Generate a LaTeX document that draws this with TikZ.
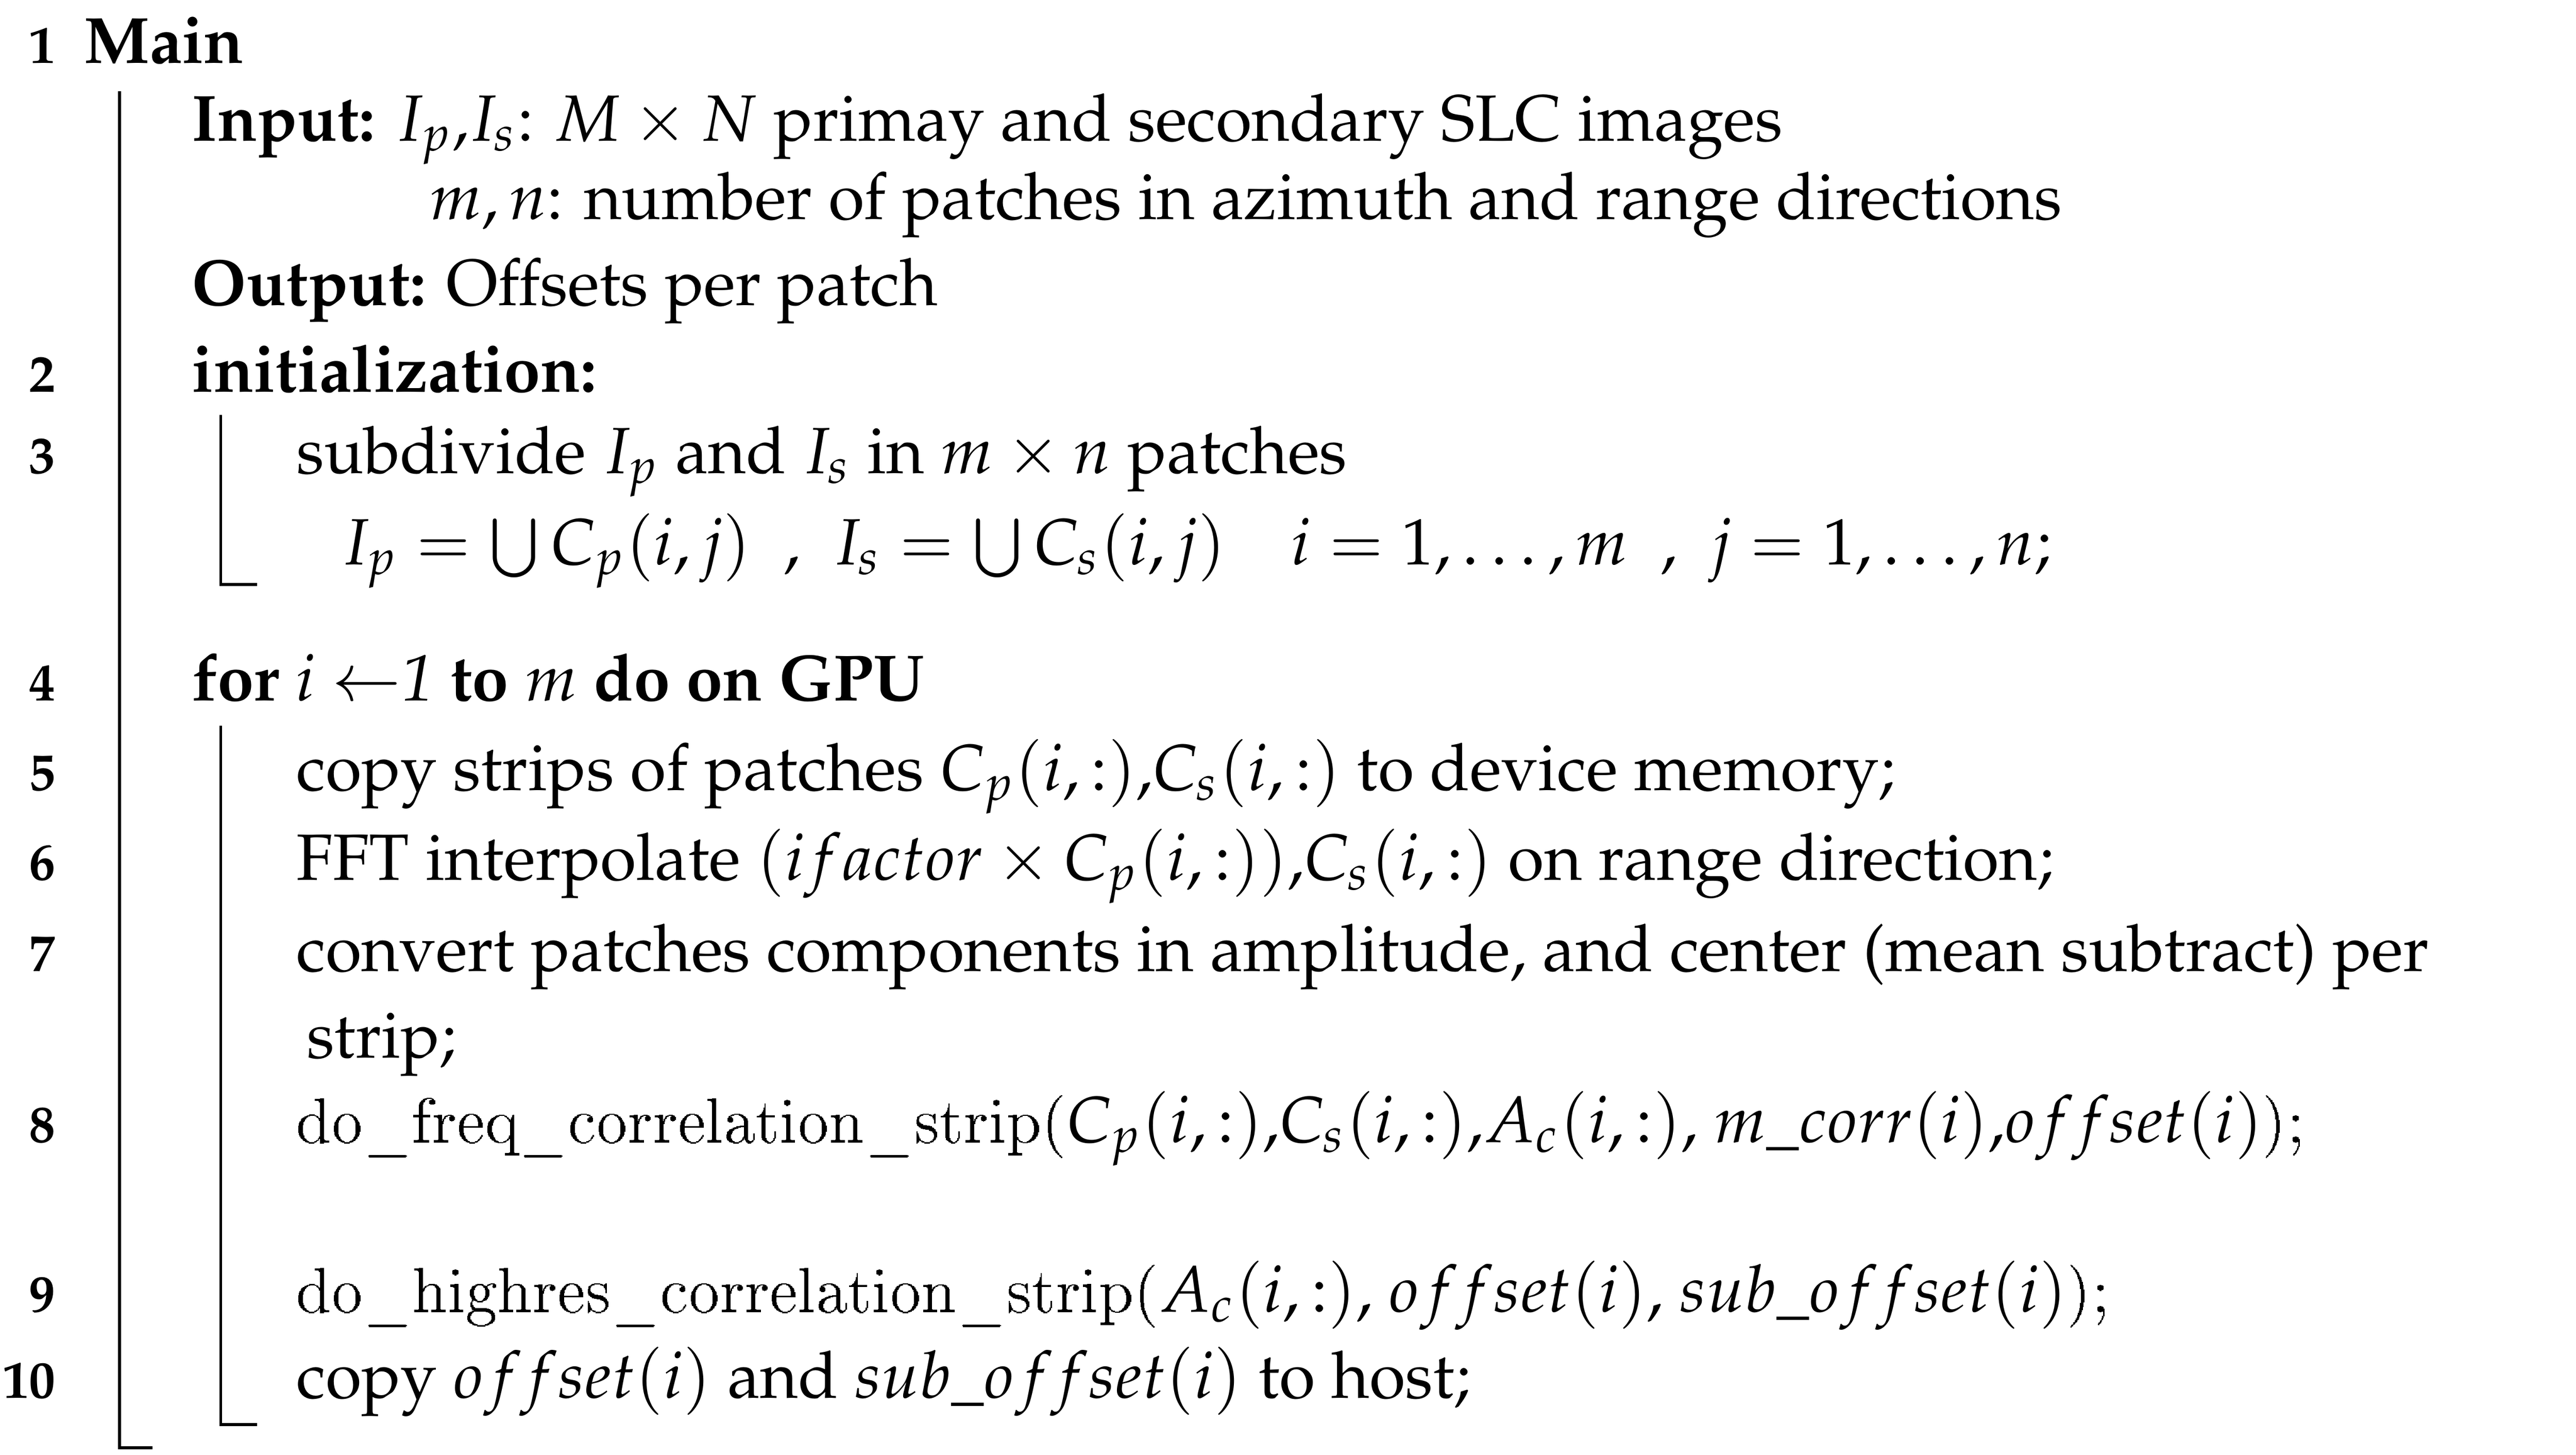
\documentclass[tikz,border=0pt]{standalone}
\usepackage[T1]{fontenc}
\usepackage{mathpazo}
\renewcommand{\ttdefault}{lmtt}
\tikzset{
    lnum/.style={anchor=base east,font=\small\bfseries,inner sep=0pt},
    txt/.style={anchor=base west,inner sep=0pt},
    bar/.style={line width=0.5pt}
}
\begin{document}
\begin{tikzpicture}[x=0.01cm,y=0.01cm,font=\fontsize{11.2}{13}\selectfont]
  \useasboundingbox (0,0) rectangle (1552,-876);

  % line numbers
  \foreach \n/\y in {1/38,2/236,3/285,4/422,5/476,6/530,7/585,8/688,9/790,10/842}
    \node[lnum] (ln\n) at (34,-\y) {\n};

  \node[txt] (main) at (50,-38) {\bfseries Main};
  \node[txt] (inp) at (115,-85) {\textbf{Input:} $I_p$,$I_s$: $M\times N$ primay and secondary SLC images};
  \node[txt] (inp2) at (258,-132) {$m,n$: number of patches in azimuth and range directions};
  \node[txt] (outp) at (115,-184) {\textbf{Output:} Offsets per patch};
  \node[txt] (init) at (115,-236) {\bfseries initialization:};
  \node[txt] (subd) at (178,-285) {subdivide $I_p$ and $I_s$ in $m\times n$ patches};
  \node[txt] (eq) at (205,-340) {$I_p=\bigcup C_p(i,j)$~~,~~$I_s=\bigcup C_s(i,j)$\quad$i=1,\ldots,m$~~,~~$j=1,\ldots,n$;};
  \node[txt] (for) at (115,-422) {\textbf{for} $i$ $\leftarrow$\textit{1} \textbf{to} $m$ \textbf{do on GPU}};
  \node[txt] (cpy) at (178,-476) {copy strips of patches $C_p(i,:)$,$C_s(i,:)$ to device memory;};
  \node[txt] (fft) at (178,-530) {FFT interpolate $(ifactor\times C_p(i,:))$,$C_s(i,:)$ on range direction;};
  \node[txt] (conv) at (178,-585) {convert patches components in amplitude, and center (mean subtract) per};
  \node[txt] (conv2) at (184,-637) {strip;};
  \node[txt] (freq) at (178,-688) {\texttt{do\_freq\_correlation\_strip(}$C_p(i,:)$,$C_s(i,:)$,$A_c(i,:)$, $m\_corr(i)$,$offset(i)$\texttt{);}};
  \node[txt] (hres) at (178,-790) {\texttt{do\_highres\_correlation\_strip(}$A_c(i,:)$, $offset(i)$, $sub\_offset(i)$\texttt{);}};
  \node[txt] (host) at (178,-842) {copy $offset(i)$ and $sub\_offset(i)$ to host;};

  % block bars
  \draw[bar] (72,-55) -- (72,-872) -- (92,-872);
  \draw[bar] (133,-250) -- (133,-352) -- (155,-352);
  \draw[bar] (133,-437) -- (133,-858) -- (155,-858);
\end{tikzpicture}
\end{document}
